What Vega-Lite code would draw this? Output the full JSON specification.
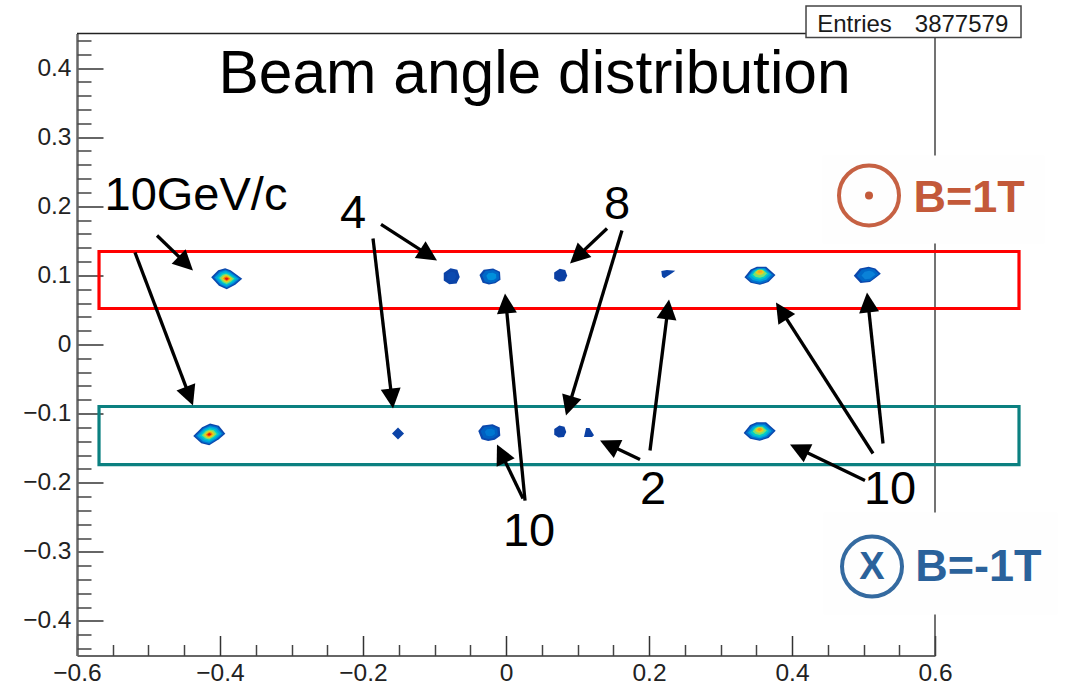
{
"$schema":"https://vega.github.io/schema/vega-lite/v6.json",
"width":858,"height":622,
"autosize":{"type":"none"},
"padding":{"left":77,"top":33.5,"right":133,"bottom":32.5},
"background":"white",
"config":{"view":{"stroke":null}},
"datasets":{
"topEdge":[{"x":-0.6,"x2":0.6,"y":0.45}],
"rightEdge":[{"x":0.6,"y":-0.45,"y2":0.45}],
"patches":[{"x":0.4420,"x2":0.7538,"y":0.2735,"y2":0.1462},{"x":0.4434,"x2":0.7720,"y":-0.2431,"y2":-0.3907}],
"frames":[{"name":"upper","x":-0.5692,"x2":0.7175,"y":0.1346,"y2":0.0521},{"name":"lower","x":-0.5692,"x2":0.7175,"y":-0.0897,"y2":-0.1737}],
"spots":[
{"x":-0.3906,"y":0.0951,"form":"lozengeR","spread":0.0434,"count":0.08},
{"x":-0.3906,"y":0.0951,"form":"lozengeR","spread":0.0378,"count":0.2},
{"x":-0.3906,"y":0.0951,"form":"lozengeR","spread":0.0336,"count":0.32},
{"x":-0.3906,"y":0.0951,"form":"lozengeR","spread":0.0266,"count":0.45},
{"x":-0.3906,"y":0.0951,"form":"lozengeR","spread":0.0210,"count":0.6},
{"x":-0.3906,"y":0.0951,"form":"lozengeR","spread":0.0154,"count":0.75},
{"x":-0.3906,"y":0.0951,"form":"lozengeR","spread":0.0098,"count":0.9},
{"x":-0.3906,"y":0.0951,"form":"lozengeR","spread":0.0056,"count":1.0},
{"x":-0.4150,"y":-0.1302,"form":"lozengeL","spread":0.0448,"count":0.08},
{"x":-0.4150,"y":-0.1302,"form":"lozengeL","spread":0.0392,"count":0.2},
{"x":-0.4150,"y":-0.1302,"form":"lozengeL","spread":0.0343,"count":0.32},
{"x":-0.4150,"y":-0.1302,"form":"lozengeL","spread":0.0273,"count":0.45},
{"x":-0.4150,"y":-0.1302,"form":"lozengeL","spread":0.0210,"count":0.6},
{"x":-0.4150,"y":-0.1302,"form":"lozengeL","spread":0.0154,"count":0.75},
{"x":-0.4150,"y":-0.1302,"form":"lozengeL","spread":0.0098,"count":0.9},
{"x":-0.4150,"y":-0.1302,"form":"lozengeL","spread":0.0056,"count":1.0},
{"x":0.3552,"y":0.0994,"form":"lens","spread":0.0434,"count":0.08},
{"x":0.3552,"y":0.0994,"form":"lens","spread":0.0378,"count":0.2},
{"x":0.3552,"y":0.1004,"form":"lens","spread":0.0322,"count":0.32},
{"x":0.3552,"y":0.1014,"form":"lens","spread":0.0252,"count":0.45},
{"x":0.3552,"y":0.1024,"form":"lens","spread":0.0196,"count":0.6},
{"x":0.3552,"y":0.1044,"form":"lens","spread":0.0126,"count":0.75},
{"x":0.3552,"y":0.1054,"form":"lens","spread":0.0070,"count":0.85},
{"x":0.3548,"y":-0.1259,"form":"lens","spread":0.0448,"count":0.08},
{"x":0.3548,"y":-0.1259,"form":"lens","spread":0.0392,"count":0.2},
{"x":0.3548,"y":-0.1259,"form":"lens","spread":0.0329,"count":0.32},
{"x":0.3548,"y":-0.1259,"form":"lens","spread":0.0259,"count":0.45},
{"x":0.3548,"y":-0.1249,"form":"lens","spread":0.0196,"count":0.6},
{"x":0.3548,"y":-0.1239,"form":"lens","spread":0.0126,"count":0.75},
{"x":0.3548,"y":-0.1229,"form":"lens","spread":0.0070,"count":0.87},
{"x":0.5053,"y":0.1003,"form":"oval","spread":0.0378,"count":0.08},
{"x":0.5060,"y":0.1003,"form":"oval","spread":0.0308,"count":0.18},
{"x":0.5070,"y":0.1003,"form":"oval","spread":0.0196,"count":0.25},
{"x":-0.0224,"y":0.0984,"form":"round","spread":0.0294,"count":0.08},
{"x":-0.0215,"y":0.0984,"form":"round","spread":0.0238,"count":0.18},
{"x":-0.0205,"y":0.0984,"form":"round","spread":0.0140,"count":0.28},
{"x":-0.0234,"y":-0.1274,"form":"round","spread":0.0308,"count":0.08},
{"x":-0.0234,"y":-0.1274,"form":"round","spread":0.0238,"count":0.16},
{"x":-0.0225,"y":-0.1274,"form":"round","spread":0.0140,"count":0.22},
{"x":-0.0759,"y":0.0988,"form":"hex","spread":0.0224,"count":0.05},
{"x":-0.0759,"y":0.0988,"form":"hex","spread":0.0126,"count":0.1},
{"x":0.0765,"y":0.1003,"form":"hex","spread":0.0182,"count":0.03},
{"x":0.2270,"y":0.1013,"form":"sliver","spread":0.0196,"count":0.05},
{"x":0.0759,"y":-0.1259,"form":"hex","spread":0.0168,"count":0.03},
{"x":0.1161,"y":-0.1274,"form":"tri","spread":0.0140,"count":0.03},
{"x":-0.1510,"y":-0.1288,"form":"diamond","spread":0.0168,"count":0.05}
],
"arrows":[
{"x":-0.4881,"y":0.1577,"x2":-0.4476,"y2":0.1172,"tipX":-0.4378,"tipY":0.1071,"heading":134.2},
{"x":-0.5189,"y":0.1331,"x2":-0.4427,"y2":-0.0747,"tipX":-0.4378,"tipY":-0.0883,"heading":159.2},
{"x":-0.1748,"y":0.1737,"x2":-0.1082,"y2":0.1294,"tipX":-0.0965,"tipY":0.1216,"heading":122.7},
{"x":-0.1860,"y":0.1534,"x2":-0.1597,"y2":-0.0781,"tipX":-0.1580,"tipY":-0.0926,"heading":173.3},
{"x":0.1413,"y":0.1679,"x2":0.0997,"y2":0.1272,"tipX":0.0895,"tipY":0.1172,"heading":226.6},
{"x":0.1622,"y":0.1650,"x2":0.0880,"y2":-0.0889,"tipX":0.0839,"tipY":-0.1027,"heading":196.8},
{"x":0.0266,"y":-0.2258,"x2":0.0,"y2":0.0593,"tipX":-0.0014,"tipY":0.0738,"heading":354.5},
{"x":0.0238,"y":-0.2229,"x2":-0.0066,"y2":-0.1577,"tipX":-0.0126,"tipY":-0.1447,"heading":334.3},
{"x":0.2014,"y":-0.1534,"x2":0.2263,"y2":0.0507,"tipX":0.2280,"tipY":0.0651,"heading":7.2},
{"x":0.1874,"y":-0.1664,"x2":0.1441,"y2":-0.1452,"tipX":0.1315,"tipY":-0.1389,"heading":295.4},
{"x":0.5133,"y":-0.1577,"x2":0.3852,"y2":0.0486,"tipX":0.3776,"tipY":0.0608,"heading":327.3},
{"x":0.5273,"y":-0.1433,"x2":0.5063,"y2":0.0608,"tipX":0.5049,"tipY":0.0753,"heading":354},
{"x":0.5021,"y":-0.1968,"x2":0.4098,"y2":-0.1509,"tipX":0.3972,"tipY":-0.1447,"heading":295.6}
],
"bigLabels":[
{"x":-0.4336,"y":0.1939,"label":"10GeV/c"},
{"x":-0.2140,"y":0.1679,"label":"4"},
{"x":0.1552,"y":0.1823,"label":"8"},
{"x":0.2056,"y":-0.2301,"label":"2"},
{"x":0.0322,"y":-0.2909,"label":"10"},
{"x":0.5371,"y":-0.2301,"label":"10"}
]
},
"encoding":{
"x":{"field":"x","type":"quantitative","scale":{"domain":[-0.6,0.6],"nice":false,"zero":false},"axis":null},
"y":{"field":"y","type":"quantitative","scale":{"domain":[-0.45,0.45],"nice":false,"zero":false},"axis":null}
},
"resolve":{"axis":{"x":"independent","y":"independent"}},
"layer":[
{"data":{"name":"topEdge"},"mark":{"type":"rule","stroke":"#222222","strokeWidth":1.5},
"encoding":{
"x":{"field":"x","type":"quantitative","scale":{"domain":[-0.6,0.6],"nice":false,"zero":false},
"axis":{"orient":"bottom","title":null,"grid":false,"values":[-0.6,-0.4,-0.2,0,0.2,0.4,0.6],"tickSize":-20,"tickColor":"#333333","tickWidth":1.5,"domainColor":"#333333","domainWidth":1.5,"labelFont":"Liberation Sans","labelFontSize":24.5,"labelColor":"#222222","labelPadding":26,"labelExpr":"datum.value==0?'0':format(datum.value,'.1f')","labelOverlap":false,"labelFlush":false,"labelBaseline":"top"}},
"x2":{"field":"x2"},
"y":{"field":"y","type":"quantitative","scale":{"domain":[-0.45,0.45],"nice":false,"zero":false},
"axis":{"orient":"left","title":null,"grid":false,"values":[-0.4,-0.3,-0.2,-0.1,0,0.1,0.2,0.3,0.4],"tickSize":-26,"tickColor":"#333333","tickWidth":1.5,"domainColor":"#666666","domainWidth":2.5,"labelFont":"Liberation Sans","labelFontSize":24.5,"labelColor":"#222222","labelPadding":32,"labelExpr":"datum.value==0?'0':format(datum.value,'.1f')","labelOverlap":false,"labelFlush":false}}
}},
{"data":{"name":"rightEdge"},"mark":{"type":"rule","stroke":"#444444","strokeWidth":1.5},
"encoding":{
"x":{"field":"x","type":"quantitative","scale":{"domain":[-0.6,0.6],"nice":false,"zero":false},
"axis":{"orient":"bottom","title":null,"grid":false,"labels":false,"values":[-0.55,-0.5,-0.45,-0.35,-0.3,-0.25,-0.15,-0.1,-0.05,0.05,0.1,0.15,0.25,0.3,0.35,0.45,0.5,0.55],"tickSize":-11,"tickColor":"#444444","tickWidth":1.5,"domain":false}},
"y":{"field":"y","type":"quantitative","scale":{"domain":[-0.45,0.45],"nice":false,"zero":false},
"axis":{"orient":"left","title":null,"grid":false,"labels":false,"values":[-0.44,-0.42,-0.38,-0.36,-0.34,-0.32,-0.28,-0.26,-0.24,-0.22,-0.18,-0.16,-0.14,-0.12,-0.08,-0.06,-0.04,-0.02,0.02,0.04,0.06,0.08,0.12,0.14,0.16,0.18,0.22,0.24,0.26,0.28,0.32,0.34,0.36,0.38,0.42,0.44],"tickSize":-14,"tickColor":"#444444","tickWidth":1.5,"domain":false}},
"y2":{"field":"y2"}
}},
{"data":{"name":"patches"},"mark":{"type":"rect","fill":"#fefefe"},
"encoding":{"x2":{"field":"x2"},"y2":{"field":"y2"}}},
{"data":{"name":"frames"},"mark":{"type":"rect","fillOpacity":0,"strokeWidth":3.2},
"encoding":{"x2":{"field":"x2"},"y2":{"field":"y2"},
"stroke":{"field":"name","type":"nominal","scale":{"domain":["upper","lower"],"range":["#ff0000","#0b8080"]},"legend":null}}},
{"data":{"name":"spots"},"mark":{"type":"point","filled":true,"opacity":1,"strokeWidth":0},
"encoding":{
"shape":{"field":"form","type":"nominal","legend":null,"scale":{"domain":["lozengeR","lozengeL","lens","oval","round","hex","sliver","tri","diamond"],
"range":["M-1,-.1L-.55,-.55L-.1,-.68L.25,-.55L1,0L.55,.38L0,.68L-.5,.45Z","M-1,.1L-.45,-.45L.05,-.68L.6,-.55L1,-.05L.6,.3L0,.68L-.5,.55Z","M-1,.1L-.6,-.4L-.2,-.58L.4,-.58L1,-.05L.55,.4L0,.58L-.6,.45Z","M-1,.05L-.55,-.5L.1,-.62L.6,-.5L1,-.1L.6,.2L.2,.5L-.5,.58Z","M-1,-.15L-.6,-.65L.3,-.76L.95,-.45L1,.3L.5,.65L-.1,.76L-.7,.6Z","M-1,-.4L-.15,-1L.7,-.8L1,.1L.6,.9L-.3,1L-1,.55Z","M-1,-.5L-.2,-.65L1,-.55L.4,-.1L-.6,.55L-.9,.3Z","M-.6,-.9L.1,-.9L1,.55L.6,.9L-1,.9Z","M-1,0L0,-1L1,0L0,1Z"]}},
"size":{"field":"spread","type":"quantitative","legend":null,"scale":{"type":"pow","exponent":2,"domain":[0,0.1],"range":[0,5112]}},
"color":{"field":"count","type":"quantitative","legend":null,"scale":{"domain":[0,0.1,0.25,0.4,0.55,0.7,0.85,1],"range":["#0a3c9e","#0b4ab0","#0a82d8","#10c0d8","#50dc90","#d8e030","#f8a820","#e81010"]}}
}},
{"data":{"name":"arrows"},"mark":{"type":"rule","stroke":"#000000","strokeWidth":3.3},
"encoding":{"x2":{"field":"x2"},"y2":{"field":"y2"}}},
{"data":{"name":"arrows"},"mark":{"type":"point","filled":true,"opacity":1,"fill":"#000000","strokeWidth":0,"size":400,"shape":"M0,0L1,2L-1,2Z"},
"encoding":{
"x":{"field":"tipX","type":"quantitative","scale":{"domain":[-0.6,0.6],"nice":false,"zero":false},"axis":null},
"y":{"field":"tipY","type":"quantitative","scale":{"domain":[-0.45,0.45],"nice":false,"zero":false},"axis":null},
"angle":{"field":"heading","type":"quantitative","scale":{"domain":[0,360],"range":[0,360]},"legend":null}
}},
{"data":{"values":[{"x":0.4196,"x2":0.7203,"y":0.4899,"y2":0.4443}]},"mark":{"type":"rect","fill":"#ffffff","stroke":"#444444","strokeWidth":1.5},
"encoding":{"x2":{"field":"x2"},"y2":{"field":"y2"}}},
{"data":{"values":[{"x":0.4874,"y":0.4515,"label":"Entries"},{"x":0.6371,"y":0.4515,"label":"3877579"}]},"mark":{"type":"text","font":"Liberation Sans","fontSize":24,"fill":"#1a1a1a","align":"center","baseline":"alphabetic"},
"encoding":{"text":{"field":"label"}}},
{"data":{"values":[{"x":0.0399,"y":0.3632,"label":"Beam angle distribution"}]},"mark":{"type":"text","font":"Liberation Sans","fontSize":60.5,"fill":"#000000","align":"center","baseline":"alphabetic"},
"encoding":{"text":{"field":"label"}}},
{"data":{"name":"bigLabels"},"mark":{"type":"text","font":"Liberation Sans","fontSize":47,"fill":"#000000","align":"center","baseline":"alphabetic"},
"encoding":{"text":{"field":"label"}}},
{"data":{"values":[{"x":0.5077,"y":0.2156}]},"mark":{"type":"point","filled":false,"opacity":0.9,"shape":"circle","size":3600,"strokeWidth":4,"stroke":"#c0512f"}},
{"data":{"values":[{"x":0.5119,"y":-0.3213}]},"mark":{"type":"point","filled":false,"opacity":0.9,"shape":"circle","size":3600,"strokeWidth":4,"stroke":"#1f5a96"}},
{"data":{"values":[{"x":0.5077,"y":0.2156}]},"mark":{"type":"point","filled":true,"opacity":0.95,"fill":"#c0512f","shape":"circle","size":64,"strokeWidth":0}},
{"data":{"values":[{"x":0.6476,"y":0.1910,"label":"B=1T"}]},"mark":{"type":"text","font":"Liberation Sans","fontWeight":"bold","fontSize":45,"fill":"#c0512f","opacity":0.95,"align":"center","baseline":"alphabetic"},
"encoding":{"text":{"field":"label"}}},
{"data":{"values":[{"x":0.6608,"y":-0.3415,"label":"B=-1T"}]},"mark":{"type":"text","font":"Liberation Sans","fontWeight":"bold","fontSize":45,"fill":"#1f5a96","opacity":0.95,"align":"center","baseline":"alphabetic"},
"encoding":{"text":{"field":"label"}}},
{"data":{"values":[{"x":0.5119,"y":-0.3386,"label":"X"}]},"mark":{"type":"text","font":"Liberation Sans","fontWeight":"bold","fontSize":38,"fill":"#1f5a96","opacity":0.95,"align":"center","baseline":"alphabetic"},
"encoding":{"text":{"field":"label"}}}
]
}
